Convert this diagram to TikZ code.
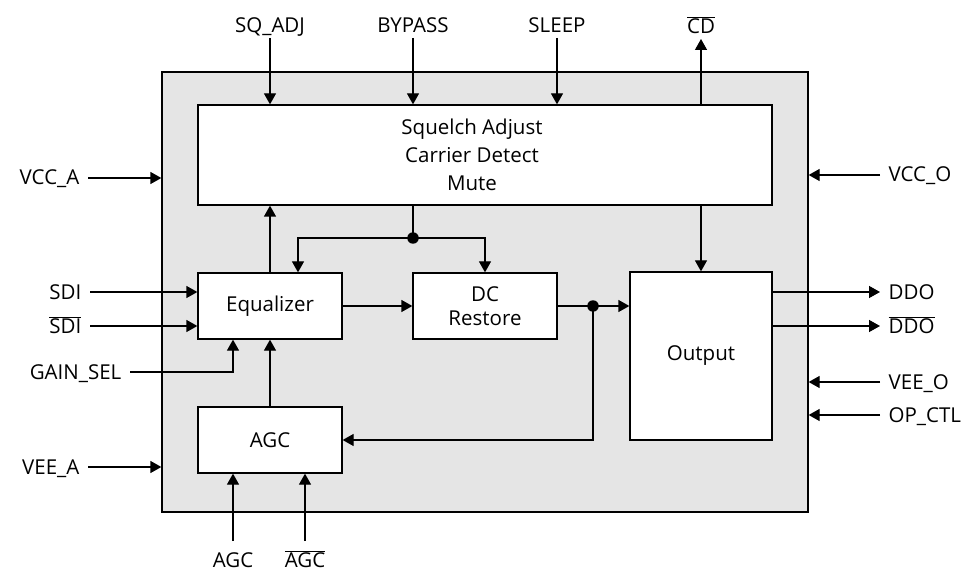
\documentclass[tikz,border=0pt]{standalone}
\usepackage{fontspec}
\setmainfont{Open Sans}
\usetikzlibrary{arrows.meta}
\newcommand{\ovl}[1]{$\overline{\mbox{#1}}$}
\begin{document}
\begin{tikzpicture}[x=1pt, y=-1pt, line width=1.3pt,
                font=\fontsize{20.5}{28}\selectfont,
                blk/.style={draw, fill=white, inner sep=0pt},
                lbl/.style={inner xsep=8pt, inner ysep=5pt, text height=14pt, text depth=0pt},
                arr/.style={-{Triangle[length=11pt,width=12pt]}},
                jdot/.style={circle, fill, inner sep=0pt, minimum size=11.5pt}]
                \useasboundingbox (0,0) rectangle (967,572);

                \node[draw, fill=gray!20, minimum width=646pt, minimum height=440pt] (chip) at (485,292) {};

                \node[blk, minimum width=574pt, minimum height=100pt] (sq) at (485,155) {};
                \node[align=center] (sqtxt) at (472,155) {Squelch Adjust\\Carrier Detect\\Mute};
                \node[blk, minimum width=144pt, minimum height=66pt] (eq) at (270,306) {Equalizer};
                \node[blk, minimum width=144pt, minimum height=66pt, align=center,
                    font=\fontsize{20.5}{24.5}\selectfont] (dc) at (485,306) {DC\\Restore};
                \node[blk, minimum width=142pt, minimum height=168pt] (out) at (701,356) {Output};
                \node[blk, minimum width=144pt, minimum height=66pt] (agc) at (270,440) {AGC};

                \node[jdot] (j1) at (413,238) {};
                \node[jdot] (j2) at (593,306) {};

                \draw (j1 |- sq.south) -- (j1.center);
                \draw[arr] (j1.center) -| ([xshift=28pt]eq.north);
                \draw[arr] (j1.center) -| (dc.north);
                \draw[arr] (eq.east) -- (dc.west);
                \draw (dc.east) -- (j2.center);
                \draw[arr] (j2.center) -- (j2 -| out.west);
                \draw[arr] (j2.center) |- (agc.east);
                \draw[arr] (agc.north) -- (eq.south);
                \draw[arr] (eq.north) -- (eq.north |- sq.south);
                \draw[arr] (out.north |- sq.south) -- (out.north);

                % pins on top
                \node[lbl, anchor=south] (sqadj) at (270,38) {SQ\_ADJ};
                \node[lbl, anchor=south] (bypass) at (413,38) {BYPASS};
                \node[lbl, anchor=south] (sleep) at (557,38) {SLEEP};
                \node[lbl, anchor=south] (cd) at (701,39) {\ovl{CD}};
                \draw[arr] (sqadj.south) -- (sqadj.south |- sq.north);
                \draw[arr] (bypass.south) -- (bypass.south |- sq.north);
                \draw[arr] (sleep.south) -- (sleep.south |- sq.north);
                \draw[arr] (cd.south |- sq.north) -- (cd.south);

                % pins on the left
                \node[lbl, anchor=east] (vcca) at (88,178) {VCC\_A};
                \node[lbl, anchor=east] (sdi) at (90,292) {SDI};
                \node[lbl, anchor=east] (sdib) at (90,326) {\ovl{SDI}};
                \node[lbl, anchor=east] (gainsel) at (130,372) {GAIN\_SEL};
                \node[lbl, anchor=east] (veea) at (88,467) {VEE\_A};
                \draw[arr] (vcca.east) -- (vcca.east -| chip.west);
                \draw[arr] (sdi.east) -- (sdi.east -| eq.west);
                \draw[arr] (sdib.east) -- (sdib.east -| eq.west);
                \draw[arr] (gainsel.east) -| ([xshift=-37pt]eq.south);
                \draw[arr] (veea.east) -- (veea.east -| chip.west);

                % pins on the right
                \node[lbl, anchor=west] (vcco) at (880,175) {VCC\_O};
                \node[lbl, anchor=west] (ddo) at (880,292) {DDO};
                \node[lbl, anchor=west] (ddob) at (880,326) {\ovl{DDO}};
                \node[lbl, anchor=west] (veeo) at (880,382) {VEE\_O};
                \node[lbl, anchor=west] (opctl) at (880,415) {OP\_CTL};
                \draw[arr] (vcco.west) -- (vcco.west -| chip.east);
                \draw[arr] (ddo.west -| out.east) -- (ddo.west);
                \draw[arr] (ddob.west -| out.east) -- (ddob.west);
                \draw[arr] (veeo.west) -- (veeo.west -| chip.east);
                \draw[arr] (opctl.west) -- (opctl.west -| chip.east);

                % pins at the bottom
                \node[lbl, anchor=north, inner ysep=12pt] (agcp) at (233,541) {AGC};
                \node[lbl, anchor=north, inner ysep=12pt] (agcn) at (305,541) {\ovl{AGC}};
                \draw[arr] (agcp.north) -- (agcp.north |- agc.south);
                \draw[arr] (agcn.north) -- (agcn.north |- agc.south);
            \end{tikzpicture}
\end{document}
